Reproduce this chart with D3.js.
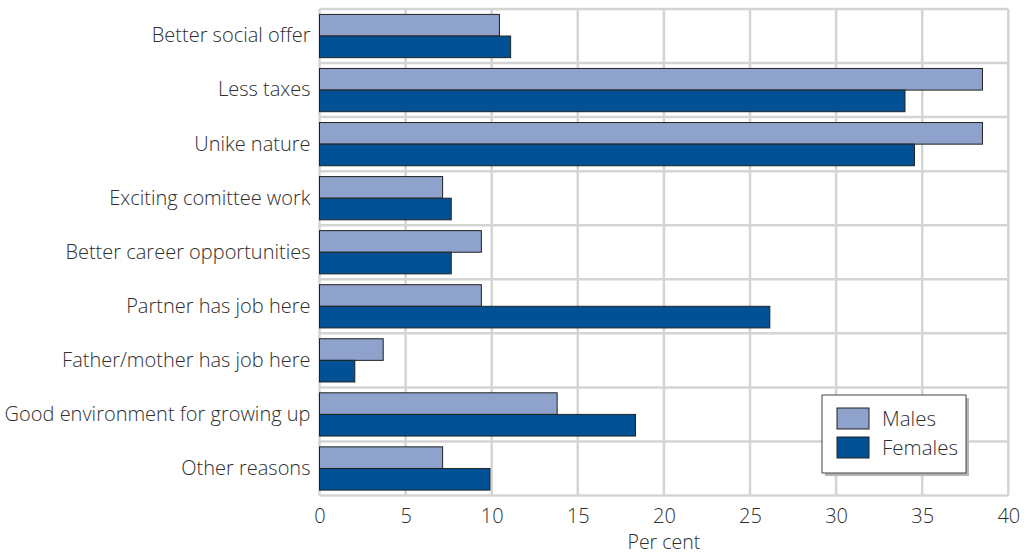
<!DOCTYPE html>
<html>
<head>
<meta charset="utf-8">
<script src="https://cdn.jsdelivr.net/npm/d3@7"></script>
<style>
  html, body { margin: 0; padding: 0; background: #fff; }
  svg { display: block; }
  text { font-family: "Open Sans", "Noto Sans", sans-serif; font-weight: 300; fill: #2e2e2e; }
</style>
</head>
<body>
<svg id="chart" width="1027" height="555"></svg>
<script>
const categories = [
  "Better social offer",
  "Less taxes",
  "Unike nature",
  "Exciting comittee work",
  "Better career opportunities",
  "Partner has job here",
  "Father/mother has job here",
  "Good environment for growing up",
  "Other reasons"
];
const males   = [10.45, 38.5, 38.5, 7.15, 9.4, 9.4, 3.7, 13.8, 7.15];
const females = [11.1, 34.0, 34.55, 7.65, 7.65, 26.15, 2.05, 18.35, 9.9];
const seriesNames = ["Males", "Females"];
const xTicks = [0, 5, 10, 15, 20, 25, 30, 35, 40];
const xTitle = "Per cent";

const colors = { Males: "#8ea2cb", Females: "#015194" };
const gridColor = "#d4d4d4";

const svg = d3.select("#chart");
const plotL = 319.5, plotR = 1008.3, plotT = 9, plotB = 495.5;

const x = d3.scaleLinear().domain([0, 40]).range([plotL, plotR]);
const y = d3.scaleBand().domain(categories).range([plotT, plotB]).paddingInner(0.2).paddingOuter(0.1);
const sub = d3.scaleBand().domain(seriesNames).range([0, y.bandwidth()]);

// grid
const grid = svg.append("g");
grid.selectAll("line.v").data(xTicks).join("line")
  .attr("x1", d => x(d)).attr("x2", d => x(d))
  .attr("y1", plotT).attr("y2", plotB)
  .attr("stroke", gridColor).attr("stroke-width", 2.5);
const hLines = d3.range(categories.length + 1).map(i => plotT + i * y.step());
grid.selectAll("line.h").data(hLines).join("line")
  .attr("x1", plotL).attr("x2", plotR)
  .attr("y1", d => d).attr("y2", d => d)
  .attr("stroke", gridColor).attr("stroke-width", 2.5);

// bars
const rows = categories.map((c, i) => ({ c, vals: [{ s: "Males", v: males[i] }, { s: "Females", v: females[i] }] }));
const g = svg.append("g").selectAll("g").data(rows).join("g")
  .attr("transform", d => `translate(0,${y(d.c)})`);
g.selectAll("rect").data(d => d.vals).join("rect")
  .attr("x", x(0))
  .attr("y", d => sub(d.s))
  .attr("width", d => x(d.v) - x(0))
  .attr("height", sub.bandwidth())
  .attr("fill", d => colors[d.s])
  .attr("stroke", "#222")
  .attr("stroke-width", 1);

// y axis labels
const yAxis = d3.axisLeft(y).tickSize(0).tickPadding(8);
const ya = svg.append("g").attr("transform", `translate(${plotL - 1},0)`).call(yAxis);
ya.select(".domain").remove();
ya.selectAll("text").style("font-size", "20px").attr("fill", "#2e2e2e");

// x axis
const xAxis = d3.axisBottom(x).tickValues(xTicks).tickSize(0).tickPadding(13);
const xa = svg.append("g").attr("transform", `translate(0,${plotB})`).call(xAxis);
xa.select(".domain").remove();
xa.selectAll("text").style("font-size", "20px").attr("fill", "#2e2e2e");

svg.append("text")
  .attr("x", (plotL + plotR) / 2).attr("y", 549)
  .attr("text-anchor", "middle")
  .style("font-size", "19.5px")
  .text(xTitle);

// legend
const lg = svg.append("g").attr("transform", "translate(822,395)");
lg.append("rect").attr("x", 3).attr("y", 3).attr("width", 144).attr("height", 78).attr("fill", "#b5b5b5");
lg.append("rect").attr("width", 144).attr("height", 78).attr("fill", "#fff").attr("stroke", "#444").attr("stroke-width", 1);
const li = lg.selectAll("g.item").data(seriesNames).join("g")
  .attr("transform", (d, i) => `translate(15,${13 + i * 29})`);
li.append("rect").attr("width", 32).attr("height", 21)
  .attr("fill", d => colors[d]).attr("stroke", "#222").attr("stroke-width", 1);
li.append("text").attr("x", 45).attr("y", 11).attr("dy", "0.35em")
  .style("font-size", "20.5px").text(d => d);
</script>
</body>
</html>
